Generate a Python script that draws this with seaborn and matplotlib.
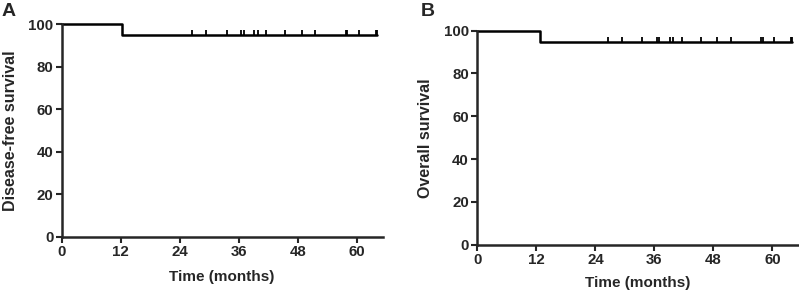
import numpy as np
import pandas as pd
import seaborn as sns
import matplotlib.pyplot as plt

# Kaplan-Meier step points (months, % surviving)
dfs_time = [0, 12.3, 12.3, 64.0]
dfs_surv = [100, 100, 94.7, 94.7]
os_time = [0, 12.7, 12.7, 64.0]
os_surv = [100, 100, 94.7, 94.7]

# censored patients (months)
dfs_censor = [26.5, 29.4, 33.5, 36.5, 37.0, 39.1, 39.8, 41.6, 45.4, 48.8, 51.4, 57.7, 58.0, 60.3, 63.8, 64.0]
os_censor = [26.6, 29.4, 33.5, 36.5, 36.9, 39.1, 39.7, 41.6, 45.4, 48.8, 51.5, 57.7, 58.0, 60.3, 63.8, 64.0]
censor_level = 94.7

x_ticks = [0, 12, 24, 36, 48, 60]
y_ticks = [0, 20, 40, 60, 80, 100]

sns.set_style("ticks")
plt.rcParams['font.family'] = ['Liberation Sans', 'DejaVu Sans']
plt.rcParams['font.weight'] = 'bold'

fig = plt.figure(figsize=(7.99, 2.92), dpi=100)
ax1 = fig.add_axes([0.0772, 0.1894, 0.4017, 0.7284])
ax2 = fig.add_axes([0.5974, 0.162, 0.4014, 0.7329])

panels = [
    (ax1, dfs_time, dfs_surv, dfs_censor, "Disease-free survival", "A", -0.136, -0.158),
    (ax2, os_time, os_surv, os_censor, "Overall survival", "B", -0.138, -0.148),
]

for ax, t, s, cens, ylab, letter, ylx, xly in panels:
    curve = pd.DataFrame({'time': t, 'surv': s})
    sns.lineplot(data=curve, x='time', y='surv', ax=ax, color='black',
                 linewidth=1.8, estimator=None, sort=False, clip_on=False)
    cdf = pd.DataFrame({'time': cens, 'surv': [censor_level + 1.0] * len(cens)})
    sns.scatterplot(data=cdf, x='time', y='surv', ax=ax, marker='|', s=18,
                    color='black', linewidth=1.3, clip_on=False)
    ax.set_xlim(0, 65.2)
    ax.set_ylim(0, 100)
    ax.set_xticks(x_ticks)
    ax.set_yticks(y_ticks)
    ax.tick_params(axis='both', direction='out', length=4, width=1.5,
                   labelsize=10.8, pad=2)
    for lab in ax.get_xticklabels() + ax.get_yticklabels():
        lab.set_fontweight('bold')
    for side in ['left', 'bottom']:
        ax.spines[side].set_linewidth(1.8)
    sns.despine(ax=ax)
    ax.set_xlabel("Time (months)", fontsize=11, fontweight='bold')
    ax.set_ylabel(ylab, fontsize=11.5, fontweight='bold')
    ax.yaxis.set_label_coords(ylx, 0.5)
    ax.xaxis.set_label_coords(0.5, xly)

fig.text(0.002, 0.99, "A", fontsize=14, fontweight='bold', va='top', ha='left')
fig.text(0.527, 0.99, "B", fontsize=14, fontweight='bold', va='top', ha='left')

fig.savefig("out.png", dpi=100)
